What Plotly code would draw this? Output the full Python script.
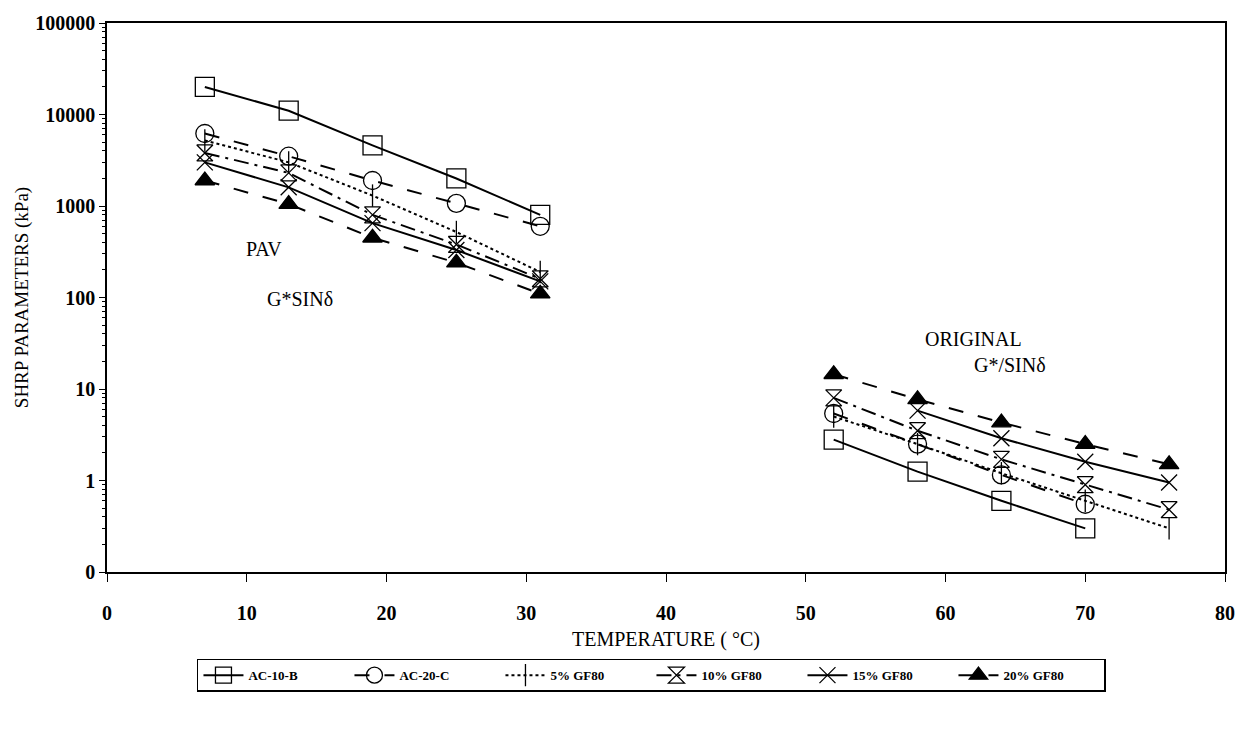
import plotly.graph_objects as go

pav_temp = [7, 13, 19, 25, 31]
orig_temp = [52, 58, 64, 70, 76]

series_names = ["AC-10-B", "AC-20-C", "5% GF80", "10% GF80", "15% GF80", "20% GF80"]

pav_ac10b = [20000, 11000, 4600, 2000, 800]
pav_ac20c = [6200, 3500, 1900, 1070, 600]
pav_gf5 = [5200, 3000, 1300, 520, 190]
pav_gf10 = [3800, 2300, 800, 380, 160]
pav_gf15 = [3000, 1600, 650, 330, 150]
pav_gf20 = [1900, 1050, 450, 240, 110]

orig_ac10b = [2.8, 1.25, 0.6, 0.3, None]
orig_ac20c = [5.4, 2.5, 1.15, 0.55, None]
orig_gf5 = [5.0, 2.5, 1.2, 0.6, 0.3]
orig_gf10 = [8.0, 3.5, 1.7, 0.9, 0.48]
orig_gf15 = [None, 5.8, 2.9, 1.6, 0.95]
orig_gf20 = [14.5, 7.7, 4.3, 2.5, 1.5]

y_tickvals = [0.1, 1, 10, 100, 1000, 10000, 100000]
y_ticktext = ["0", "1", "10", "100", "1000", "10000", "100000"]
x_tickvals = [0, 10, 20, 30, 40, 50, 60, 70, 80]

styles = [
    dict(symbol="square-open", size=19, dash="solid"),
    dict(symbol="circle-open", size=18, dash="longdash"),
    dict(symbol="line-ns-open", size=16, dash="dot"),
    dict(symbol="hourglass-open", size=16, dash="longdashdot"),
    dict(symbol="x-thin-open", size=16, dash="solid"),
    dict(symbol="triangle-up", size=17, dash="longdash"),
]

pav_data = [pav_ac10b, pav_ac20c, pav_gf5, pav_gf10, pav_gf15, pav_gf20]
orig_data = [orig_ac10b, orig_ac20c, orig_gf5, orig_gf10, orig_gf15, orig_gf20]

fig = go.Figure()
for i, name in enumerate(series_names):
    st = styles[i]
    x = pav_temp + [None] + orig_temp
    y = pav_data[i] + [None] + orig_data[i]
    fig.add_trace(go.Scatter(
        x=x, y=y, name=name, mode="lines+markers",
        connectgaps=False,
        line=dict(color="black", width=2, dash=st["dash"]),
        marker=dict(symbol=st["symbol"], size=st["size"], color="black",
                    line=dict(color="black", width=1.3)),
    ))

font_family = "Liberation Serif"

fig.update_layout(
    width=1248, height=737,
    margin=dict(l=107, r=23, t=20, b=165),
    paper_bgcolor="white", plot_bgcolor="white",
    font=dict(family=font_family, color="black", size=16),
    showlegend=True,
    legend=dict(
        orientation="h", x=0.487, xanchor="center", y=-0.188, yanchor="middle",
        bordercolor="black", borderwidth=1.5, bgcolor="white",
        font=dict(family=font_family, size=13, color="black", weight="bold"),
        itemwidth=40, entrywidth=96, entrywidthmode="pixels", tracegroupgap=0,
    ),
    xaxis=dict(
        range=[0, 80], tickvals=x_tickvals, showgrid=False, zeroline=False,
        showline=True, linecolor="black", linewidth=1.5, mirror=True,
        ticks="outside", ticklen=8, tickcolor="black", ticklabelstandoff=14,
        tickfont=dict(family=font_family, size=20, color="black", weight="bold"),
        title=dict(text="TEMPERATURE ( °C)", font=dict(family=font_family, size=20), standoff=9),
    ),
    yaxis=dict(
        type="log", range=[-1, 5], tickvals=y_tickvals, ticktext=y_ticktext,
        showgrid=False, zeroline=False,
        showline=True, linecolor="black", linewidth=1.5, mirror=True,
        ticks="outside", ticklen=6, tickcolor="black",
        minor=dict(ticks="outside", ticklen=3, tickcolor="black", showgrid=False, dtick="D1"),
        tickfont=dict(family=font_family, size=20, color="black", weight="bold"),
        title=dict(text="SHRP PARAMETERS (kPa)", font=dict(family=font_family, size=19), standoff=2),
    ),
)

ann_text = ["PAV", "G*SINδ", "ORIGINAL", "G*/SINδ"]
ann_x = [11.2, 13.8, 62.0, 64.6]
ann_y = [2.53, 1.98, 1.55, 1.26]
for txt, xv, yv in zip(ann_text, ann_x, ann_y):
    fig.add_annotation(x=xv, y=yv, xref="x", yref="y", text=txt, showarrow=False,
                       font=dict(family=font_family, size=20, color="black"))

fig.write_html("out.html")
